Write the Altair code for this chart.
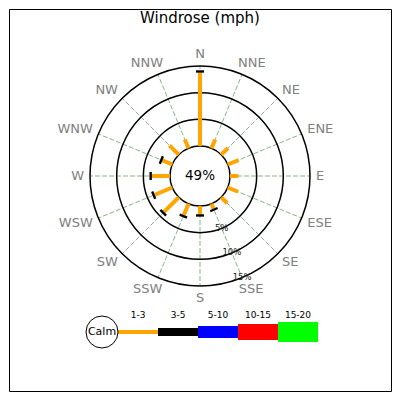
import math
import pandas as pd
import altair as alt

# ---------------- data ----------------
directions = ["N", "NNE", "NE", "ENE", "E", "ESE", "SE", "SSE",
              "S", "SSW", "SW", "WSW", "W", "WNW", "NW", "NNW"]
speed_1_3 = [13.75, 1.8, 1.8, 2.2, 1.6, 2.1, 1.6, 1.0,
             1.55, 2.3, 3.9, 3.55, 3.4, 2.0, 2.5, 1.8]
speed_3_5 = [0.45, 0, 0, 0, 0, 0, 0, 0.4,
             0.45, 0.45, 0.45, 0.45, 0.45, 0.45, 0, 0]
calm_pct = 49
ring_pcts = [5, 10, 15]
speed_bins = ["1-3", "3-5", "5-10", "10-15", "15-20"]
bin_colors = ["orange", "black", "blue", "red", "lime"]

# ---------------- layout / style ----------------
R0 = 30.0            # pixel radius of the calm circle (0 %)
K = 80.0 / 15.0      # pixels per percent
R_OUT = R0 + K * max(ring_pcts)
bin_widths = [4, 8, 12, 16, 20]
FONT = "DejaVu Sans"
PAD = 1
W, H = 382, 382
CX, CY = 191, 167    # centre of the rose in view pixels
xs = alt.Scale(domain=[-CX, W - CX], nice=False, zero=False)
ys = alt.Scale(domain=[CY - H, CY], nice=False, zero=False)
X = alt.X("x:Q", scale=xs, axis=None)
Y = alt.Y("y:Q", scale=ys, axis=None)


def ang(i):
    return math.radians(i * 360.0 / len(directions))


# spokes
spk = []
for i, d in enumerate(directions):
    t = ang(i)
    spk.append(dict(x=R0 * math.sin(t), y=R0 * math.cos(t),
                    x2=R_OUT * math.sin(t), y2=R_OUT * math.cos(t)))
spokes = alt.Chart(pd.DataFrame(spk)).mark_rule(
    color="#3a8f3a", strokeWidth=0.8, strokeDash=[5, 2], opacity=0.8
).encode(x=X, y=Y, x2="x2:Q", y2="y2:Q")

# rings
rings_df = pd.DataFrame({"x": [0] * len(ring_pcts), "y": [0] * len(ring_pcts),
                         "size": [(2 * (R0 + K * p)) ** 2 for p in ring_pcts]})
rings = alt.Chart(rings_df).mark_point(
    shape="circle", filled=False, stroke="black", strokeWidth=1.5, opacity=1
).encode(x=X, y=Y, size=alt.Size("size:Q", scale=None))

calm_df = pd.DataFrame({"x": [0], "y": [0], "size": [(2 * R0) ** 2],
                        "t": [f"{calm_pct}%"]})
calm = alt.Chart(calm_df).mark_point(
    shape="circle", filled=True, fill="white", stroke="black",
    strokeWidth=1.5, opacity=1, fillOpacity=1
).encode(x=X, y=Y, size=alt.Size("size:Q", scale=None))
calm_txt = alt.Chart(calm_df).mark_text(
    font=FONT, fontSize=13.5, color="black", baseline="middle"
).encode(x=X, y=Y, text="t:N")

# bars
rows = []
series = [speed_1_3, speed_3_5]
for i, d in enumerate(directions):
    t = ang(i)
    cum = 0.0
    for b, s in enumerate(series):
        v = s[i]
        if v > 0:
            ra, rb = R0 + K * cum, R0 + K * (cum + v)
            rows.append(dict(x=ra * math.sin(t), y=ra * math.cos(t),
                             x2=rb * math.sin(t), y2=rb * math.cos(t),
                             color=bin_colors[b], w=bin_widths[b]))
        cum += v
bars = alt.Chart(pd.DataFrame(rows)).mark_rule(strokeCap="butt").encode(
    x=X, y=Y, x2="x2:Q", y2="y2:Q",
    color=alt.Color("color:N", scale=None),
    strokeWidth=alt.StrokeWidth("w:Q", scale=None))

# direction labels (placed just outside the outer ring)
CHW = {"N": 0.748, "E": 0.632, "S": 0.635, "W": 0.989}
lab = []
for i, d in enumerate(directions):
    t = ang(i)
    s, c = math.sin(t), math.cos(t)
    w = sum(CHW[ch] for ch in d) * 13
    push = 0.5 * w * min(1.0, abs(s) / math.sqrt(0.5))
    xx = 116 * s + (push if s > 1e-9 else (-push if s < -1e-9 else 0))
    yy = 122 * c
    lab.append(dict(x=xx, y=yy, t=d))
dir_labels = alt.Chart(pd.DataFrame(lab)).mark_text(
    font=FONT, fontSize=13, color="gray", baseline="middle"
).encode(x=X, y=Y, text="t:N")

# ring labels along the SSE spoke
ta = math.radians(157.5)
rl = [dict(x=(R0 + K * p) * math.sin(ta), y=(R0 + K * p) * math.cos(ta) + 0.5,
           t=f"{p}%") for p in ring_pcts]
ring_labels = alt.Chart(pd.DataFrame(rl)).mark_text(
    font=FONT, fontSize=8.5, color="#222", baseline="middle"
).encode(x=X, y=Y, text="t:N")

# legend
LX, LY = -98, -156   # calm circle centre of the legend
LR = 16
SEG = 40
leg_circ_df = pd.DataFrame({"x": [LX], "y": [LY], "size": [(2 * LR) ** 2], "t": ["Calm"]})
leg_circ = alt.Chart(leg_circ_df).mark_point(
    shape="circle", filled=True, fill="white", stroke="black",
    strokeWidth=1, opacity=1, fillOpacity=1
).encode(x=X, y=Y, size=alt.Size("size:Q", scale=None))
leg_circ_txt = alt.Chart(leg_circ_df).mark_text(
    font=FONT, fontSize=11, color="black", baseline="middle"
).encode(x=X, y=Y, text="t:N")
seg = []
for j, nm in enumerate(speed_bins):
    x0 = LX + LR + j * SEG
    seg.append(dict(x=x0, y=LY, x2=x0 + SEG, y2=LY, color=bin_colors[j],
                    w=bin_widths[j], t=nm, xm=x0 + SEG / 2, ym=LY + 17))
seg_df = pd.DataFrame(seg)
leg_bars = alt.Chart(seg_df).mark_rule(strokeCap="butt").encode(
    x=X, y=Y, x2="x2:Q", y2="y2:Q",
    color=alt.Color("color:N", scale=None),
    strokeWidth=alt.StrokeWidth("w:Q", scale=None))
leg_txt = alt.Chart(seg_df).mark_text(
    font=FONT, fontSize=9, color="black", baseline="middle"
).encode(x=alt.X("xm:Q", scale=xs, axis=None),
         y=alt.Y("ym:Q", scale=ys, axis=None), text="t:N")

title = alt.Chart(pd.DataFrame({"t": ["Windrose (mph)"]})).mark_text(
    font=FONT, fontSize=15, color="black", baseline="middle"
).encode(x=alt.value(W / 2), y=alt.value(9), text="t:N")

chart = alt.layer(
    spokes, rings, calm, bars, calm_txt, dir_labels, ring_labels,
    leg_bars, leg_circ, leg_circ_txt, leg_txt, title
).properties(
    width=W, height=H, padding=PAD, autosize="none", background="white"
).configure_view(stroke="black", strokeWidth=1)

chart.save("out.html", embed_options={"renderer": "svg", "actions": False})
